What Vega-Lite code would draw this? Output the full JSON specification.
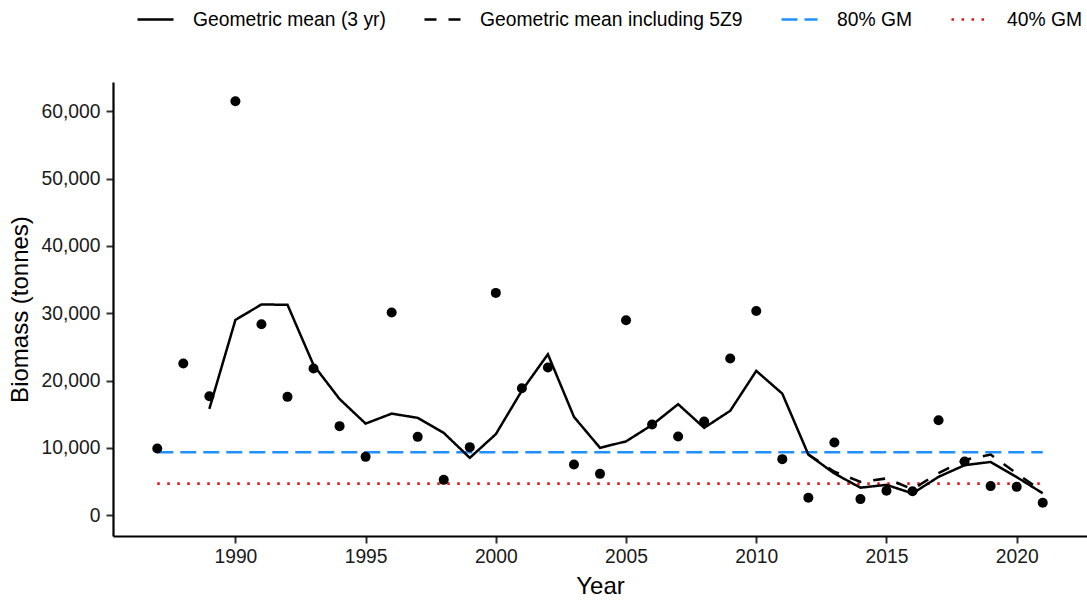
{
  "$schema": "https://vega.github.io/schema/vega-lite/v6.json",
  "width": 974,
  "height": 454,
  "autosize": {"type": "none"},
  "padding": {"left": 113, "top": 82, "right": 0, "bottom": 64},
  "background": "white",
  "config": {
    "font": "Liberation Sans",
    "view": {"stroke": null},
    "axis": {
      "grid": false,
      "domainColor": "black",
      "domainWidth": 2.2,
      "tickColor": "#333333",
      "tickWidth": 2,
      "tickSize": 7,
      "labelFontSize": 19.3,
      "labelColor": "#1a1a1a",
      "labelFont": "Liberation Sans",
      "titleFont": "Liberation Sans",
      "titleFontSize": 24,
      "titleFontWeight": "normal",
      "titleColor": "black"
    },
    "legend": {
      "labelFont": "Liberation Sans",
      "labelFontSize": 19.3,
      "labelColor": "black",
      "labelLimit": 400
    }
  },
  "datasets": {
    "pts": [
      {"Year": 1987, "Biomass": 9906},
      {"Year": 1988, "Biomass": 22530},
      {"Year": 1989, "Biomass": 17670},
      {"Year": 1990, "Biomass": 61490},
      {"Year": 1991, "Biomass": 28370},
      {"Year": 1992, "Biomass": 17570},
      {"Year": 1993, "Biomass": 21790},
      {"Year": 1994, "Biomass": 13220},
      {"Year": 1995, "Biomass": 8660},
      {"Year": 1996, "Biomass": 30100},
      {"Year": 1997, "Biomass": 11630},
      {"Year": 1998, "Biomass": 5240},
      {"Year": 1999, "Biomass": 10100},
      {"Year": 2000, "Biomass": 33020},
      {"Year": 2001, "Biomass": 18860},
      {"Year": 2002, "Biomass": 21940},
      {"Year": 2003, "Biomass": 7530},
      {"Year": 2004, "Biomass": 6130},
      {"Year": 2005, "Biomass": 28960},
      {"Year": 2006, "Biomass": 13470},
      {"Year": 2007, "Biomass": 11690},
      {"Year": 2008, "Biomass": 13920},
      {"Year": 2009, "Biomass": 23270},
      {"Year": 2010, "Biomass": 30340},
      {"Year": 2011, "Biomass": 8320},
      {"Year": 2012, "Biomass": 2570},
      {"Year": 2013, "Biomass": 10800},
      {"Year": 2014, "Biomass": 2380},
      {"Year": 2015, "Biomass": 3610},
      {"Year": 2016, "Biomass": 3560},
      {"Year": 2017, "Biomass": 14110},
      {"Year": 2018, "Biomass": 7980},
      {"Year": 2019, "Biomass": 4310},
      {"Year": 2020, "Biomass": 4200},
      {"Year": 2021, "Biomass": 1830}
    ],
    "lines": [
      {"series": "80% GM", "Year": 1987, "value": 9350},
      {"series": "80% GM", "Year": 2021, "value": 9350},
      {"series": "40% GM", "Year": 1987, "value": 4675},
      {"series": "40% GM", "Year": 2021, "value": 4675},
      {"series": "Geometric mean including 5Z9", "Year": 2012, "value": 9000},
      {"series": "Geometric mean including 5Z9", "Year": 2013, "value": 6450},
      {"series": "Geometric mean including 5Z9", "Year": 2014, "value": 4950},
      {"series": "Geometric mean including 5Z9", "Year": 2015, "value": 5450},
      {"series": "Geometric mean including 5Z9", "Year": 2016, "value": 3850},
      {"series": "Geometric mean including 5Z9", "Year": 2017, "value": 6250},
      {"series": "Geometric mean including 5Z9", "Year": 2018, "value": 8200},
      {"series": "Geometric mean including 5Z9", "Year": 2019, "value": 9000},
      {"series": "Geometric mean including 5Z9", "Year": 2020, "value": 6200},
      {"series": "Geometric mean including 5Z9", "Year": 2021, "value": 3500},
      {"series": "Geometric mean (3 yr)", "Year": 1989, "value": 15800},
      {"series": "Geometric mean (3 yr)", "Year": 1990, "value": 29000},
      {"series": "Geometric mean (3 yr)", "Year": 1991, "value": 31300},
      {"series": "Geometric mean (3 yr)", "Year": 1992, "value": 31250},
      {"series": "Geometric mean (3 yr)", "Year": 1993, "value": 22300},
      {"series": "Geometric mean (3 yr)", "Year": 1994, "value": 17250},
      {"series": "Geometric mean (3 yr)", "Year": 1995, "value": 13600},
      {"series": "Geometric mean (3 yr)", "Year": 1996, "value": 15080},
      {"series": "Geometric mean (3 yr)", "Year": 1997, "value": 14450},
      {"series": "Geometric mean (3 yr)", "Year": 1998, "value": 12220},
      {"series": "Geometric mean (3 yr)", "Year": 1999, "value": 8510},
      {"series": "Geometric mean (3 yr)", "Year": 2000, "value": 12030},
      {"series": "Geometric mean (3 yr)", "Year": 2001, "value": 18500},
      {"series": "Geometric mean (3 yr)", "Year": 2002, "value": 23900},
      {"series": "Geometric mean (3 yr)", "Year": 2003, "value": 14600},
      {"series": "Geometric mean (3 yr)", "Year": 2004, "value": 10000},
      {"series": "Geometric mean (3 yr)", "Year": 2005, "value": 10960},
      {"series": "Geometric mean (3 yr)", "Year": 2006, "value": 13400},
      {"series": "Geometric mean (3 yr)", "Year": 2007, "value": 16480},
      {"series": "Geometric mean (3 yr)", "Year": 2008, "value": 12970},
      {"series": "Geometric mean (3 yr)", "Year": 2009, "value": 15500},
      {"series": "Geometric mean (3 yr)", "Year": 2010, "value": 21430},
      {"series": "Geometric mean (3 yr)", "Year": 2011, "value": 18050},
      {"series": "Geometric mean (3 yr)", "Year": 2012, "value": 9000},
      {"series": "Geometric mean (3 yr)", "Year": 2013, "value": 6190},
      {"series": "Geometric mean (3 yr)", "Year": 2014, "value": 4080},
      {"series": "Geometric mean (3 yr)", "Year": 2015, "value": 4500},
      {"series": "Geometric mean (3 yr)", "Year": 2016, "value": 3220},
      {"series": "Geometric mean (3 yr)", "Year": 2017, "value": 5690},
      {"series": "Geometric mean (3 yr)", "Year": 2018, "value": 7420},
      {"series": "Geometric mean (3 yr)", "Year": 2019, "value": 7900},
      {"series": "Geometric mean (3 yr)", "Year": 2020, "value": 5650},
      {"series": "Geometric mean (3 yr)", "Year": 2021, "value": 3250}
    ]
  },
  "layer": [
    {
      "data": {"name": "lines"},
      "mark": {"type": "line", "strokeCap": "butt"},
      "encoding": {
        "x": {
          "field": "Year",
          "type": "quantitative",
          "scale": {"domain": [1985.3, 2022.7], "nice": false, "zero": false},
          "axis": {
            "title": "Year",
            "values": [1990, 1995, 2000, 2005, 2010, 2015, 2020],
            "format": "d",
            "labelPadding": 4,
            "titlePadding": 8
          }
        },
        "y": {
          "field": "value",
          "type": "quantitative",
          "scale": {"domain": [-3100, 64350], "nice": false, "zero": false},
          "axis": {
            "title": "Biomass (tonnes)",
            "values": [0, 10000, 20000, 30000, 40000, 50000, 60000],
            "format": ",d",
            "labelPadding": 6,
            "titlePadding": 9
          }
        },
        "color": {
          "field": "series",
          "type": "nominal",
          "scale": {
            "domain": ["Geometric mean (3 yr)", "Geometric mean including 5Z9", "80% GM", "40% GM"],
            "range": ["black", "black", "#1E90FF", "#EE1111"]
          },
          "legend": {
            "title": null,
            "orient": "none",
            "direction": "horizontal",
            "columns": 4,
            "legendX": 23,
            "legendY": -82,
            "padding": 0,
            "symbolType": "stroke",
            "symbolSize": 1296,
            "symbolStrokeWidth": 2.6,
            "labelOffset": 18,
            "columnPadding": 33,
            "gridAlign": "none"
          }
        },
        "strokeDash": {
          "field": "series",
          "type": "nominal",
          "scale": {
            "domain": ["Geometric mean (3 yr)", "Geometric mean including 5Z9", "80% GM", "40% GM"],
            "range": [[1, 0], [12, 12], [16, 7], [2.5, 7.5]]
          },
          "legend": {
            "title": null,
            "orient": "none",
            "direction": "horizontal",
            "columns": 4,
            "legendX": 23,
            "legendY": -82,
            "padding": 0,
            "symbolType": "stroke",
            "symbolSize": 1296,
            "symbolStrokeWidth": 2.6,
            "labelOffset": 18,
            "columnPadding": 33,
            "gridAlign": "none"
          }
        },
        "strokeWidth": {
          "field": "series",
          "type": "nominal",
          "scale": {
            "domain": ["Geometric mean (3 yr)", "Geometric mean including 5Z9", "80% GM", "40% GM"],
            "range": [2.5, 2.6, 3, 3]
          },
          "legend": null
        }
      }
    },
    {
      "data": {"name": "pts"},
      "mark": {"type": "circle", "size": 100, "opacity": 1, "color": "black"},
      "encoding": {
        "x": {"field": "Year", "type": "quantitative"},
        "y": {"field": "Biomass", "type": "quantitative"}
      }
    }
  ]
}
